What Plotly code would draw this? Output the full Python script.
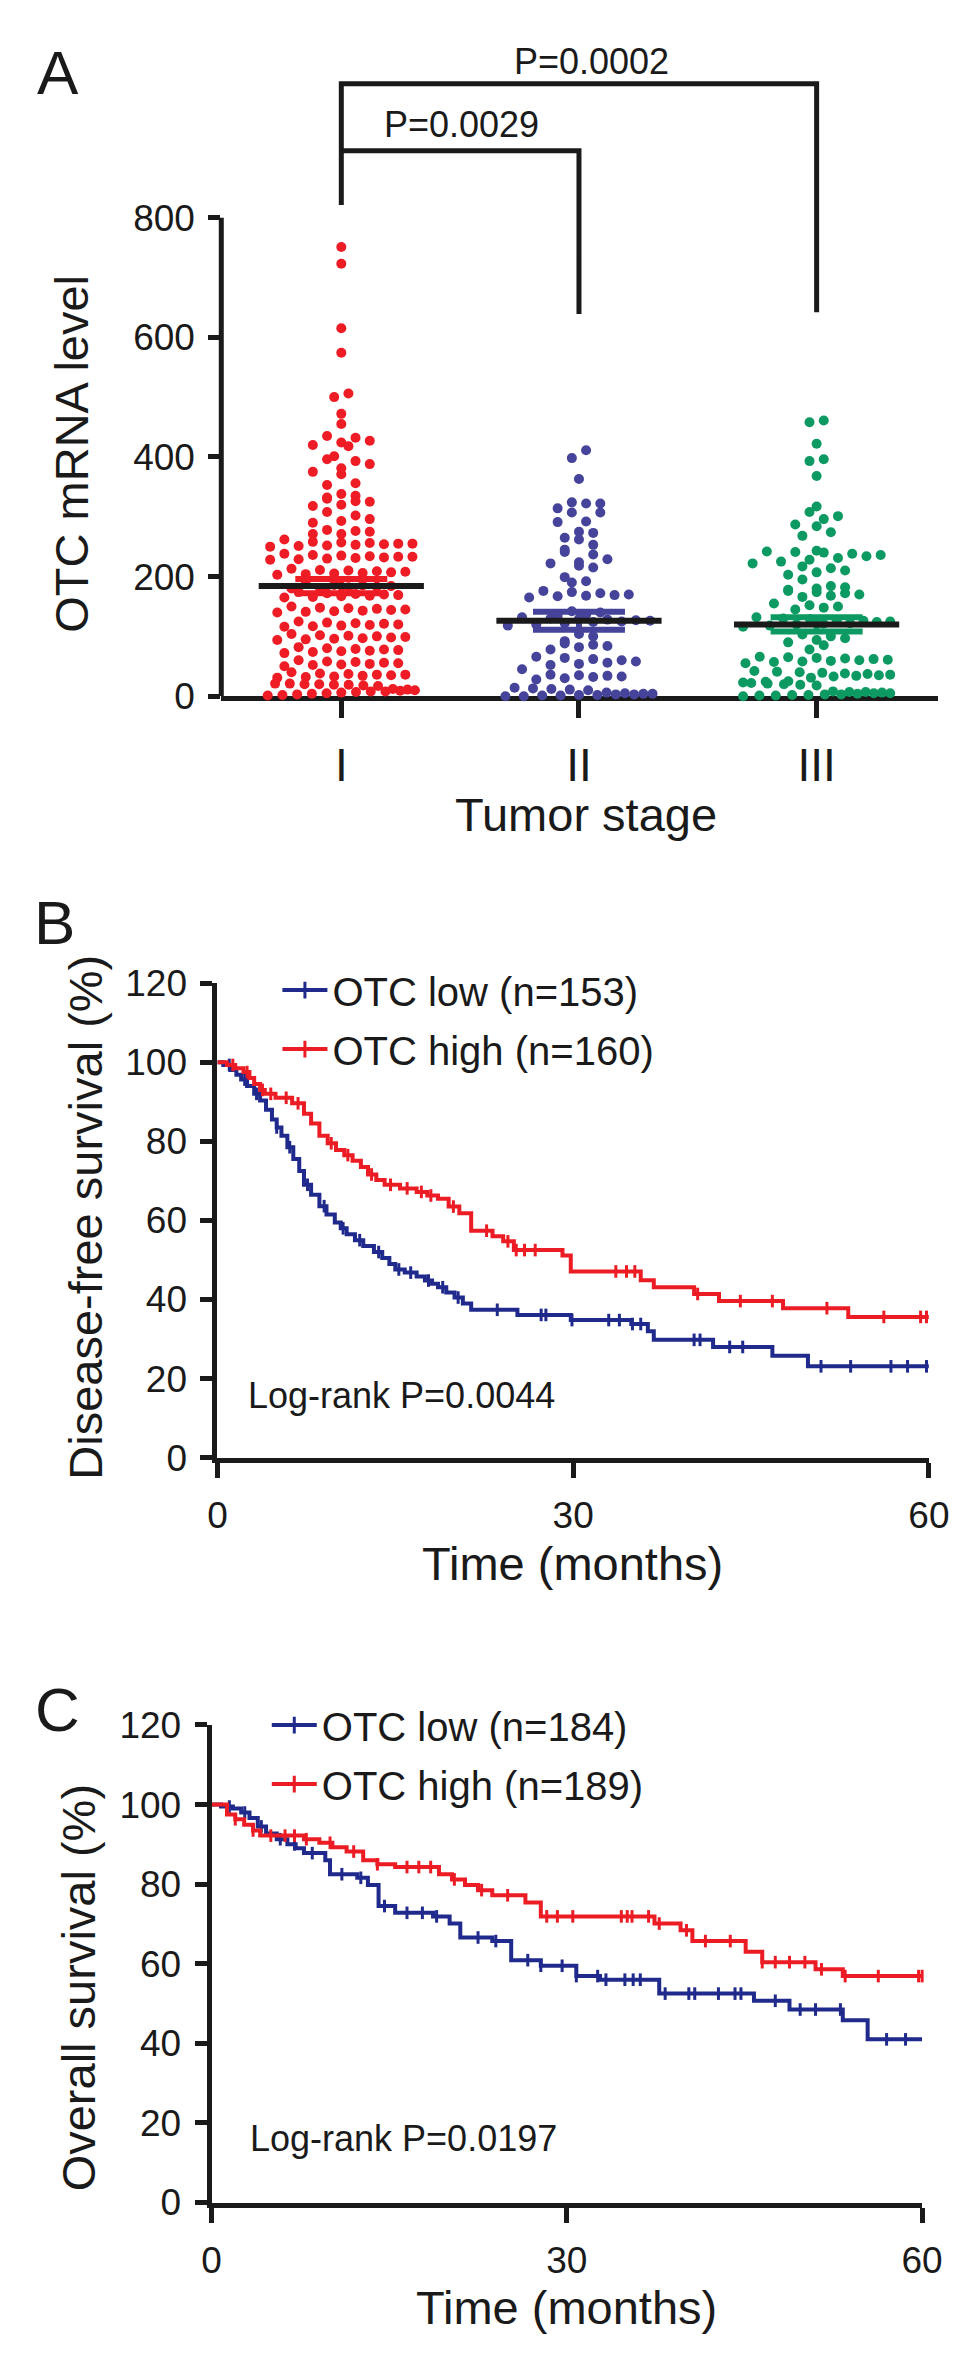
import bisect
import plotly.graph_objects as go

W, H = 969, 2359
FONT = "Liberation Sans, Arial, Helvetica, sans-serif"
INK = "#1a1a1a"

# ---------------- panel A: OTC mRNA level by tumor stage ----------------
stages = ["I", "II", "III"]
stage_colors = ["#EE1C25", "#46449A", "#0D9A62"]

stage1_values = [
    751, 723, 615, 574, 506, 500, 472, 455, 435, 432, 427, 424, 420, 418, 401, 396,
    393, 388, 381, 375, 371, 356, 353, 338, 335, 332, 330, 326, 325, 320, 318, 308,
    302, 296, 293, 290, 278, 276, 275, 271, 271,
    262, 258, 257, 256, 255, 255, 254, 253, 252, 251, 250,
    238, 236, 235, 234, 233, 233, 232, 231, 230, 229, 228,
    213, 211, 210, 209, 208, 207, 206, 205, 204, 203,
    188, 186, 185, 184, 183, 182, 181, 180,
    174, 172, 171, 170, 169, 168, 167, 166, 165,
    150, 148, 147, 146, 145, 144, 143, 142, 141, 140,
    125, 123, 122, 121, 120, 119, 118, 117, 116,
    104, 102, 101, 100, 99, 98, 97, 96, 95, 94,
    82, 80, 79, 78, 77, 76, 75, 74, 72,
    60, 58, 57, 56, 55, 54, 53, 52, 50,
    40, 38, 37, 36, 36, 35, 34, 33, 32, 31,
    21, 21, 20, 20, 19, 19, 18, 17,
    12, 11, 10, 9, 8, 8, 7, 6, 5, 4, 3, 2, 1,
]
stage2_values = [
    411, 398, 363, 324, 322, 322, 314, 307, 307, 292, 291, 275, 273, 265, 262, 253,
    245, 241, 237, 229, 224, 222, 218, 215, 199, 192, 190,
    176, 174, 172, 170, 169, 168, 167, 165, 142, 140,
    136, 134, 132, 130, 129, 128, 127, 126, 125, 124, 122, 120, 118,
    104, 100, 92, 88, 86, 84, 82, 78,
    66, 64, 62, 60, 58, 56, 54, 52, 45,
    36, 35, 34, 33, 32, 30, 28,
    14, 13, 12, 11, 10,
    6, 5, 4, 4, 3, 3, 2, 2, 1, 1, 0, 0,
]
stage3_values = [
    461, 458, 422, 396, 393, 368, 317, 308, 301, 296, 287, 284, 274, 268,
    243, 242, 241, 240, 238, 236, 234, 231, 228, 225, 222,
    217, 214, 210, 207, 203, 195,
    184, 182, 180, 178, 176, 174, 172, 170, 168, 166, 155, 152, 150, 148, 145,
    132, 130, 129, 127, 126, 125, 124, 122, 121, 120, 118, 116,
    103, 100, 97, 94, 90, 85, 78,
    66, 65, 64, 63, 62, 61, 60, 59, 58, 57, 55,
    42, 41, 40, 39, 38, 37, 36, 35, 34, 33, 31,
    25, 24, 23, 22, 21, 20, 19, 18,
    8, 7, 7, 6, 5, 5, 4, 3, 3, 2, 2, 1, 1, 0,
]
stage_values = [stage1_values, stage2_values, stage3_values]
stage_mean = [184, 126, 120]
stage_sem = [12, 15, 12]

# ---------------- panels B and C: Kaplan-Meier curves ----------------
dfs_low_time = [0, 0.5, 1.1, 1.6, 2.0, 2.5, 3.1, 3.6, 4.1, 4.6, 5.0, 5.4, 5.9, 6.4, 6.9,
                7.3, 7.9, 8.6, 9.2, 9.9, 10.4, 10.9, 11.6, 12.3, 13.2, 13.9, 14.5, 15.0,
                15.8, 16.8, 17.5, 18.1, 18.6, 19.3, 20.0, 20.7, 21.4, 25.3, 29.8, 34.9,
                36.3, 36.8, 41.8, 46.8, 49.8, 60]
dfs_low_surv = [100, 99.3, 98.0, 96.8, 95.6, 94.0, 92.0, 90.3, 88.0, 85.5, 83.5, 81.4,
                78.5, 75.5, 72.5, 69.0, 66.5, 63.6, 61.5, 59.5, 58.0, 56.5, 55.0, 53.5,
                52.0, 50.5, 49.0, 47.6, 46.8, 45.8, 44.8, 44.0, 43.1, 41.8, 40.5, 39.0,
                37.4, 36.1, 34.8, 33.8, 32.0, 29.8, 28.0, 25.8, 23.1, 23.1]
dfs_low_censor = [1.0, 2.3, 3.3, 5.0, 6.1, 7.6, 9.0, 10.6, 12.0, 13.6, 15.3, 16.3, 17.8,
                  19.0, 20.3, 23.6, 27.3, 27.7, 29.9, 33.0, 33.9, 35.0, 35.7, 40.2, 40.7,
                  43.2, 44.3, 50.9, 53.4, 56.8, 58.2, 59.8]

dfs_high_time = [0, 0.8, 1.5, 2.2, 2.7, 3.1, 3.6, 4.0, 4.9, 6.3, 7.3, 7.9, 8.6, 9.3,
                 10.0, 10.7, 11.4, 12.1, 12.7, 13.4, 14.1, 15.4, 16.8, 17.7, 18.6, 19.5,
                 20.4, 21.4, 23.2, 24.1, 25.0, 29.1, 29.8, 35.7, 36.8, 40.2, 42.3, 47.7,
                 53.2, 60]
dfs_high_surv = [100, 99.3, 98.5, 97.5, 96.0, 94.5, 93.0, 92.0, 91.0, 89.6, 87.0, 84.5,
                 81.4, 79.5, 77.8, 76.5, 75.1, 73.5, 71.6, 70.2, 69.0, 68.1, 67.2, 66.3,
                 65.5, 63.5, 61.8, 57.4, 56.0, 54.7, 52.5, 51.1, 47.1, 44.9, 43.1, 41.4,
                 39.6, 37.8, 35.6, 35.6]
dfs_high_censor = [1.3, 2.5, 3.8, 4.5, 5.8, 6.8, 9.6, 11.0, 13.0, 14.6, 16.0, 17.2, 18.0,
                   19.9, 22.7, 24.5, 25.2, 25.9, 26.8, 33.6, 34.5, 35.2, 40.5, 44.1, 46.8,
                   51.4, 56.2, 59.3, 59.8]

os_low_time = [0, 0.8, 1.8, 2.5, 3.2, 3.9, 4.6, 5.5, 6.4, 7.1, 7.8, 9.6, 10.0, 12.3,
               13.2, 14.1, 15.5, 18.7, 20.1, 21.0, 23.7, 25.3, 27.8, 30.8, 32.8, 37.8,
               45.8, 48.8, 53.3, 55.4, 60]
os_low_surv = [100, 99.5, 99.0, 98.0, 96.6, 94.5, 92.7, 91.3, 90.0, 89.0, 87.8, 86.0,
               82.5, 81.6, 79.8, 74.5, 72.8, 71.9, 70.1, 66.6, 65.7, 60.9, 59.5, 56.9,
               56.0, 52.5, 50.7, 48.5, 45.8, 41.0, 41.0]
os_low_censor = [1.5, 2.8, 4.2, 5.8, 7.0, 8.5, 11.0, 12.6, 14.6, 16.5, 17.8, 19.0, 22.5,
                 24.0, 26.7, 27.8, 29.6, 30.8, 32.6, 33.3, 34.9, 35.6, 36.2, 38.3, 40.3,
                 40.8, 42.8, 44.2, 44.7, 47.6, 49.7, 51.0, 53.1, 57.0, 58.6]

os_high_time = [0, 1.3, 2.0, 2.75, 3.5, 4.1, 7.8, 9.1, 10.2, 11.4, 12.8, 14.0, 15.5,
                19.2, 20.3, 21.4, 22.5, 23.7, 26.5, 27.8, 37.4, 39.6, 40.6, 45.1, 46.5,
                51.0, 53.3, 60]
os_high_surv = [100, 97.5, 96.3, 94.9, 93.5, 92.2, 91.3, 90.4, 89.3, 88.2, 86.0, 85.0,
                84.3, 82.5, 81.2, 79.8, 78.5, 77.2, 75.4, 71.9, 70.1, 68.4, 65.7, 63.0,
                60.4, 58.6, 56.9, 56.9]
os_high_censor = [2.0, 3.5, 5.0, 6.2, 7.0, 8.0, 10.0, 12.0, 14.0, 16.5, 17.5, 18.5, 20.5,
                  22.8, 25.0, 28.3, 29.2, 30.5, 34.6, 35.1, 35.5, 36.9, 37.8, 40.1, 41.7,
                  43.8, 46.5, 47.6, 48.8, 50.1, 51.5, 53.5, 56.3, 59.7, 60.0]

km_blue = "#1F2A8C"
km_red = "#EC1C24"


def px_x(x):
    return x / W


def px_y(y):
    return 1 - y / H


def swarm(values, row_h, step, max_half):
    """Prism-style scatter: bin values into rows and spread each row sideways."""
    rows = {}
    for v in values:
        rows.setdefault(int((v - 11) / row_h + 0.5), []).append(v)
    xs, ys = [], []
    for key in sorted(rows):
        row = sorted(rows[key])
        order, lo, hi = [], 0, len(row) - 1
        while lo <= hi:
            order.append(row[lo])
            lo += 1
            if lo <= hi:
                order.append(row[hi])
                hi -= 1
        n = len(order)
        gap = step if n <= 1 else min(step, 2 * max_half / (n - 1))
        for i, v in enumerate(order):
            xs.append((i - (n - 1) / 2) * gap)
            ys.append(v)
    return xs, ys


def surv_at(times, surv, t):
    return surv[bisect.bisect_right(times, t) - 1]


fig = go.Figure()

# axis geometry of panel A (pixels)
a_left, a_right, a_zero, a_top = 210, 950, 680, 20
a_xrange = [-0.505, 2.509]
a_units_px = (a_right - a_left) / (a_xrange[1] - a_xrange[0])
a_yrange = [0, (a_zero - a_top) / (487 / 800)]
a_val_px = (a_zero - a_top) / a_yrange[1]

for i, vals in enumerate(stage_values):
    dx, ys = swarm(vals, 13.4 / a_val_px, 14.7 / a_units_px, 76 / a_units_px)
    fig.add_trace(go.Scatter(
        x=[i + d for d in dx], y=ys, mode="markers", cliponaxis=False,
        marker=dict(size=10, color=stage_colors[i], line=dict(width=0)),
        showlegend=False, xaxis="x", yaxis="y"))

for i in range(3):
    fig.add_trace(go.Scatter(
        x=[i], y=[stage_mean[i]], mode="markers", cliponaxis=False,
        marker=dict(size=1, color=stage_colors[i]),
        error_y=dict(type="data", array=[stage_sem[i]], color=stage_colors[i],
                     thickness=6, width=46),
        showlegend=False, xaxis="x", yaxis="y"))

fig.add_trace(go.Scatter(
    x=[0, 1, 2], y=stage_mean, mode="markers", cliponaxis=False,
    marker=dict(symbol="line-ew", size=118, color=INK, line=dict(width=6, color=INK)),
    showlegend=False, xaxis="x", yaxis="y"))

# KM curves
km_panels = [
    ("x2", "y2", "legend", [
        ("OTC low (n=153)", dfs_low_time, dfs_low_surv, dfs_low_censor, km_blue),
        ("OTC high (n=160)", dfs_high_time, dfs_high_surv, dfs_high_censor, km_red)]),
    ("x3", "y3", "legend2", [
        ("OTC low (n=184)", os_low_time, os_low_surv, os_low_censor, km_blue),
        ("OTC high (n=189)", os_high_time, os_high_surv, os_high_censor, km_red)]),
]
for xa, ya, leg, curves in km_panels:
    for name, t, s, cens, col in curves:
        fig.add_trace(go.Scatter(
            x=t, y=s, mode="lines", line=dict(color=col, width=4, shape="hv"),
            cliponaxis=False, showlegend=False, xaxis=xa, yaxis=ya))
        fig.add_trace(go.Scatter(
            x=cens, y=[surv_at(t, s, c) for c in cens], mode="markers", cliponaxis=False,
            marker=dict(symbol="line-ns", size=9, color=col, line=dict(width=3, color=col)),
            showlegend=False, xaxis=xa, yaxis=ya))
        fig.add_trace(go.Scatter(
            x=[None], y=[None], mode="lines+markers", name=name, legend=leg,
            legendgroup=name,
            line=dict(color=col, width=4),
            marker=dict(symbol="line-ns", size=12, color=col, line=dict(width=3, color=col)),
            xaxis=xa, yaxis=ya))

axis_common = dict(showgrid=False, zeroline=False, ticks="outside", tickwidth=5,
                   tickcolor=INK, linecolor=INK, linewidth=5,
                   tickfont=dict(family=FONT, size=37, color=INK))

b_left, b_right, b_zero, b_top = 206, 941, 1455, 972
c_left, c_right, c_zero, c_top = 200, 934, 2213, 1727

legend_common = dict(xanchor="left", yanchor="top", bgcolor="rgba(0,0,0,0)",
                     font=dict(family=FONT, size=40, color=INK),
                     traceorder="grouped", tracegroupgap=4, itemwidth=45)

fig.update_layout(
    width=W, height=H, margin=dict(l=0, r=0, t=0, b=0),
    paper_bgcolor="white", plot_bgcolor="white",
    font=dict(family=FONT, color=INK),
    xaxis=dict(axis_common, domain=[px_x(a_left), px_x(a_right)], range=a_xrange,
               anchor="y", tickvals=[0, 1, 2], ticktext=stages, ticklen=17,
               showline=True, layer="below traces", ticklabelstandoff=8,
               tickfont=dict(family=FONT, size=46, color=INK)),
    yaxis=dict(axis_common, domain=[px_y(a_zero), px_y(a_top)], range=a_yrange,
               anchor="x", tickvals=[0, 200, 400, 600, 800], ticklen=12,
               showline=False, ticklabelstandoff=6),
    xaxis2=dict(axis_common, domain=[px_x(b_left), px_x(b_right)], range=[0, 60],
                anchor="y2", tickvals=[0, 30, 60], ticklen=15, showline=True,
                ticklabelstandoff=6),
    yaxis2=dict(axis_common, domain=[px_y(b_zero), px_y(b_top)], range=[0, 120],
                anchor="x2", tickvals=[0, 20, 40, 60, 80, 100, 120], ticklen=12,
                showline=True, ticklabelstandoff=6),
    xaxis3=dict(axis_common, domain=[px_x(c_left), px_x(c_right)], range=[0, 60],
                anchor="y3", tickvals=[0, 30, 60], ticklen=15, showline=True,
                ticklabelstandoff=6),
    yaxis3=dict(axis_common, domain=[px_y(c_zero), px_y(c_top)], range=[0, 120],
                anchor="x3", tickvals=[0, 20, 40, 60, 80, 100, 120], ticklen=12,
                showline=True, ticklabelstandoff=6),
    legend=dict(legend_common, x=px_x(268), y=px_y(946)),
    legend2=dict(legend_common, x=px_x(257), y=px_y(1694)),
)

# panel A: y axis line only up to 800, and the significance brackets
fig.add_shape(type="line", xref="x domain", yref="y", x0=0, x1=0, y0=0, y1=800,
              line=dict(color=INK, width=5))
bracket = dict(type="path", xref="x", yref="y", line=dict(color=INK, width=5))
fig.add_shape(path="M 0,821 L 0,1024 L 2,1024 L 2,642", **bracket)
fig.add_shape(path="M 0,912 L 1,912 L 1,639", **bracket)


def note(text, x, y, size, xanchor="center", **kw):
    fig.add_annotation(text=text, x=px_x(x), y=px_y(y), xref="paper", yref="paper",
                       xanchor=xanchor, yanchor="middle", showarrow=False,
                       font=dict(family=FONT, size=size, color=INK), **kw)


note("P=0.0002", 592, 34, 36)
note("P=0.0029", 458, 98, 36)
note("A", 41, 45, 62)
note("B", 38, 910, 62)
note("C", 41, 1711, 62)
note("OTC mRNA level", 55, 433, 47, textangle=-90)
note("Tumor stage", 587, 800, 47)
note("Disease-free survival (%)", 70, 1210, 47, textangle=-90)
note("Time (months)", 573, 1563, 47)
note("Log-rank P=0.0044", 236, 1392, 36, xanchor="left")
note("Overall survival (%)", 62, 1995, 47, textangle=-90)
note("Time (months)", 567, 2320, 47)
note("Log-rank P=0.0197", 238, 2148, 36, xanchor="left")

fig.write_html("out.html")
